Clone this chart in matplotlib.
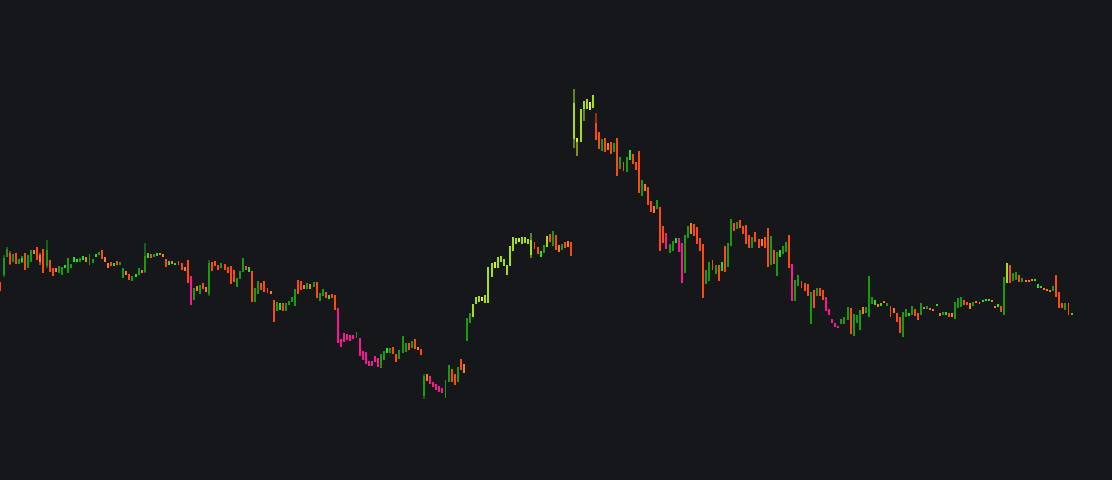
import numpy as np
import matplotlib
matplotlib.use('Agg')
import matplotlib.pyplot as plt

# candle data, one entry per bar (arbitrary price units)
opens = [
    218, 225, 243, 247, 238, 247, 236, 238, 247, 232,
    238, 250, 253, 245, 251, 234, 240, 232, 232, 227,
    225, 232, 227, 232, 238, 238, 238, 240, 243, 235,
    237, 243, 245, 250, 243, 237, 238, 234, 239, 235,
    222, 229, 226, 219, 223, 225, 230, 228, 242, 246,
    243, 244, 247, 246, 241, 235, 239, 235, 239, 237,
    233, 240, 224, 200, 214, 206, 217, 213, 206, 238,
    239, 235, 232, 236, 233, 234, 230, 213, 221, 228,
    234, 228, 229, 198, 206, 217, 219, 212, 209, 200,
    189, 190, 197, 189, 195, 198, 194, 206, 219, 215,
    211, 216, 213, 218, 199, 204, 208, 201, 206, 205,
    192, 161, 167, 166, 165, 165, 162, 162, 149, 148,
    139, 139, 144, 142, 132, 140, 147, 147, 153, 146,
    141, 147, 148, 157, 152, 161, 153, 151, 104, 126,
    124, 118, 116, 114, 112, 102, 118, 131, 126, 118,
    141, 136, 159, 177, 183, 196, 198, 199, 197, 197,
    223, 232, 232, 238, 234, 225, 234, 249, 256, 258,
    256, 257, 256, 245, 258, 253, 243, 247, 253, 266,
    254, 265, 255, 250, 258, 259, 258, 361, 358, 358,
    391, 391, 390, 392, 377, 368, 349, 362, 357, 358,
    348, 362, 331, 338, 328, 340, 346, 338, 349, 304,
    316, 313, 299, 294, 291, 293, 274, 267, 247, 249,
    257, 262, 257, 227, 262, 277, 276, 273, 262, 256,
    216, 219, 240, 226, 235, 229, 254, 233, 254, 277,
    271, 280, 274, 275, 265, 252, 268, 261, 261, 263,
    272, 235, 250, 224, 243, 246, 248, 265, 236, 199,
    214, 219, 217, 216, 176, 210, 204, 212, 210, 203,
    191, 181, 177, 174, 176, 176, 180, 192, 164, 177,
    170, 193, 187, 183, 196, 200, 196, 194, 199, 194,
    194, 192, 187, 183, 163, 183, 184, 185, 191, 187,
    185, 193, 191, 192, 191, 194, 187, 185, 185, 187,
    187, 181, 192, 193, 200, 198, 197, 194, 199, 198,
    198, 199, 199, 200, 194, 193, 194, 185, 217, 235,
    219, 220, 225, 218, 220, 220, 221, 219, 212, 212,
    212, 211, 210, 209, 225, 208, 197, 190, 197, 185,
]
closes = [
    209, 242, 251, 236, 246, 236, 241, 242, 230, 245,
    250, 246, 240, 238, 227, 250, 228, 224, 228, 234,
    233, 235, 242, 236, 243, 241, 242, 244, 238, 246,
    241, 246, 248, 241, 238, 232, 234, 237, 235, 238,
    232, 225, 220, 224, 226, 232, 227, 244, 247, 242,
    246, 247, 245, 243, 233, 239, 236, 237, 235, 230,
    229, 217, 195, 212, 209, 215, 211, 208, 237, 229,
    234, 230, 237, 230, 227, 216, 218, 222, 229, 242,
    230, 233, 198, 212, 219, 210, 208, 207, 206, 178,
    198, 197, 189, 197, 199, 203, 211, 220, 210, 211,
    217, 211, 218, 202, 207, 211, 202, 205, 202, 190,
    157, 153, 158, 160, 159, 161, 168, 144, 140, 136,
    134, 134, 138, 133, 146, 149, 152, 152, 146, 138,
    150, 164, 157, 150, 159, 151, 150, 145, 124, 119,
    116, 113, 110, 108, 107, 120, 135, 118, 115, 133,
    130, 127, 182, 187, 196, 203, 204, 203, 205, 233,
    237, 238, 243, 244, 241, 235, 254, 263, 262, 262,
    263, 263, 261, 260, 251, 246, 249, 255, 264, 258,
    269, 250, 248, 256, 252, 253, 244, 397, 362, 391,
    399, 401, 398, 405, 360, 351, 361, 348, 350, 346,
    357, 324, 343, 329, 343, 350, 336, 330, 307, 320,
    309, 295, 288, 287, 300, 249, 257, 251, 256, 259,
    262, 248, 217, 265, 274, 266, 264, 256, 249, 202,
    230, 238, 230, 235, 219, 238, 228, 257, 281, 269,
    278, 272, 266, 256, 252, 263, 258, 252, 254, 252,
    233, 264, 236, 248, 250, 254, 258, 232, 199, 220,
    225, 212, 209, 204, 208, 192, 212, 204, 200, 189,
    185, 177, 173, 172, 181, 183, 193, 166, 186, 185,
    190, 186, 193, 224, 203, 195, 193, 197, 197, 197,
    183, 187, 178, 167, 188, 191, 187, 194, 184, 180,
    197, 191, 194, 190, 189, 196, 184, 188, 188, 183,
    183, 198, 202, 203, 195, 195, 191, 198, 197, 196,
    200, 201, 201, 198, 192, 196, 188, 223, 237, 217,
    227, 228, 218, 222, 218, 218, 219, 221, 216, 214,
    210, 209, 208, 214, 203, 192, 192, 197, 185, 187,
]
highs = [
    218, 245, 253, 249, 246, 247, 241, 244, 247, 245,
    250, 250, 253, 247, 251, 260, 240, 232, 232, 234,
    233, 235, 242, 236, 243, 241, 242, 244, 243, 246,
    241, 246, 248, 250, 243, 237, 238, 237, 239, 238,
    232, 229, 226, 224, 226, 232, 230, 257, 247, 246,
    246, 247, 247, 246, 241, 239, 239, 237, 239, 237,
    233, 240, 224, 212, 214, 215, 217, 213, 240, 238,
    239, 235, 237, 236, 233, 234, 230, 222, 229, 242,
    234, 233, 229, 212, 219, 217, 219, 212, 209, 200,
    198, 197, 197, 197, 199, 203, 211, 220, 219, 215,
    217, 216, 218, 218, 207, 211, 208, 205, 206, 205,
    192, 161, 167, 166, 165, 165, 168, 162, 149, 148,
    139, 139, 144, 142, 146, 149, 152, 152, 153, 146,
    150, 164, 157, 157, 159, 161, 153, 151, 126, 126,
    124, 118, 116, 114, 112, 120, 135, 131, 126, 133,
    141, 136, 182, 187, 196, 203, 204, 203, 205, 233,
    237, 238, 243, 244, 241, 235, 254, 263, 262, 262,
    263, 263, 261, 267, 258, 253, 249, 255, 264, 266,
    269, 265, 255, 256, 258, 259, 258, 411, 362, 391,
    399, 401, 398, 405, 387, 368, 361, 362, 357, 358,
    357, 362, 343, 338, 343, 350, 346, 338, 349, 320,
    316, 313, 299, 294, 300, 293, 274, 267, 256, 259,
    262, 262, 257, 265, 274, 277, 276, 273, 262, 256,
    230, 238, 240, 235, 235, 238, 254, 257, 281, 277,
    278, 280, 274, 275, 265, 263, 268, 261, 261, 263,
    272, 264, 250, 248, 250, 254, 258, 265, 236, 220,
    225, 219, 217, 216, 208, 210, 212, 212, 210, 203,
    191, 181, 177, 174, 181, 183, 193, 192, 186, 185,
    190, 193, 193, 224, 203, 200, 196, 197, 199, 197,
    194, 192, 187, 183, 188, 191, 187, 194, 191, 187,
    197, 193, 194, 192, 191, 196, 187, 188, 188, 187,
    187, 198, 202, 203, 200, 198, 197, 198, 199, 198,
    200, 201, 201, 200, 194, 196, 194, 223, 237, 235,
    227, 228, 225, 222, 220, 220, 221, 221, 216, 214,
    212, 211, 210, 214, 225, 208, 197, 197, 197, 187,
]
lows = [
    209, 223, 243, 235, 238, 236, 236, 237, 230, 232,
    238, 246, 240, 235, 227, 232, 228, 224, 228, 227,
    225, 232, 227, 232, 238, 238, 238, 240, 238, 235,
    237, 243, 245, 241, 238, 232, 234, 234, 235, 235,
    222, 225, 220, 219, 223, 225, 227, 227, 242, 242,
    243, 244, 245, 243, 233, 235, 236, 235, 235, 230,
    229, 217, 195, 200, 209, 206, 211, 208, 204, 229,
    234, 230, 232, 230, 227, 216, 218, 213, 221, 228,
    230, 228, 198, 198, 206, 210, 208, 207, 206, 178,
    189, 190, 189, 189, 195, 198, 194, 206, 210, 211,
    211, 211, 213, 202, 199, 204, 202, 201, 202, 190,
    157, 153, 158, 160, 159, 161, 162, 144, 140, 136,
    134, 134, 138, 133, 132, 140, 147, 147, 146, 138,
    141, 147, 148, 150, 152, 151, 150, 145, 101, 119,
    116, 113, 110, 108, 107, 102, 118, 118, 115, 118,
    130, 127, 159, 177, 183, 196, 198, 199, 197, 197,
    223, 232, 232, 238, 234, 225, 234, 249, 256, 258,
    256, 257, 256, 242, 251, 246, 243, 247, 253, 258,
    254, 250, 248, 250, 252, 253, 244, 352, 344, 358,
    379, 391, 390, 392, 360, 351, 349, 348, 350, 346,
    348, 324, 331, 329, 328, 340, 336, 330, 307, 304,
    309, 295, 288, 287, 291, 249, 257, 251, 247, 249,
    257, 248, 217, 227, 262, 266, 264, 256, 249, 202,
    216, 219, 230, 226, 219, 229, 228, 233, 254, 269,
    271, 272, 266, 256, 252, 252, 258, 252, 254, 252,
    233, 235, 236, 224, 243, 246, 248, 232, 199, 199,
    214, 212, 209, 204, 176, 192, 204, 204, 200, 189,
    185, 177, 173, 172, 176, 176, 180, 166, 164, 177,
    170, 186, 187, 183, 196, 195, 193, 194, 197, 194,
    183, 187, 178, 167, 163, 183, 184, 185, 184, 180,
    185, 191, 191, 190, 189, 194, 184, 185, 185, 183,
    183, 181, 192, 193, 195, 195, 191, 194, 197, 196,
    198, 199, 199, 198, 192, 193, 188, 185, 217, 217,
    219, 220, 218, 218, 218, 218, 219, 219, 212, 212,
    210, 209, 208, 209, 203, 192, 192, 190, 185, 185,
]
# bar colour class per candle, ten per chunk
kinds = (
    "rggrgrglrg" "gororgrrog" "glggllglog" "glgroorlrg"
    "gorglgoglr" "gloorlolrr" "ormgogrogr" "rrgrrrrggg"
    "rlrggrrror" "glrggggrro" "gogrggrlrr" "mmmmmmgmmm"
    "mmmmgglgrr" "gggrgrorgo" "mmmmmggrrg" "roggyyyYyy"
    "yYyyyyyyyY" "yyyyrrlgyr" "grogroryYy" "yyYyrrgror"
    "grgrglrrrg" "orrogrrmgg" "lmmggorrrr" "ggrgrlrggr"
    "grrrrgrror" "rgrglggrmg" "grrrgrgrrm" "mmmmgggrgg"
    "goggglolog" "rorrgglgrr" "gogoologlr" "ogggrrogoo"
    "llloolrgyr" "ggrgooolll" "ooogrrrgrl"
)

palette = {
    'g': '#179c0d',
    'l': '#22e41c',
    'r': '#ff4b0a',
    'o': '#ff7b14',
    'm': '#ff1493',
    'y': '#a5df12',
    'Y': '#e3f01d',
}

o = np.array(opens, dtype=float)
c = np.array(closes, dtype=float)
h = np.array(highs, dtype=float)
lo = np.array(lows, dtype=float)
x = np.arange(len(o))
cols = [palette[k] for k in kinds]

fig = plt.figure(figsize=(11.12, 4.8), dpi=100)
bg = '#16171b'
fig.patch.set_facecolor(bg)
ax = fig.add_axes([0, 0, 1, 1])
ax.set_facecolor(bg)

w = 0.64
# wicks, a darker shade of the same colour
ax.bar(x, h - lo, bottom=lo, width=w, color=cols, alpha=0.55, linewidth=0)
# bodies
body_lo = np.minimum(o, c)
body_h = np.maximum(np.abs(c - o), 1.5)
ax.bar(x, body_h, bottom=body_lo, width=w, color=cols, linewidth=0)

ax.set_xlim(-0.16, 362.17)
ax.set_ylim(20, 500)
ax.axis('off')

fig.savefig('out.png', dpi=100, facecolor=bg)
